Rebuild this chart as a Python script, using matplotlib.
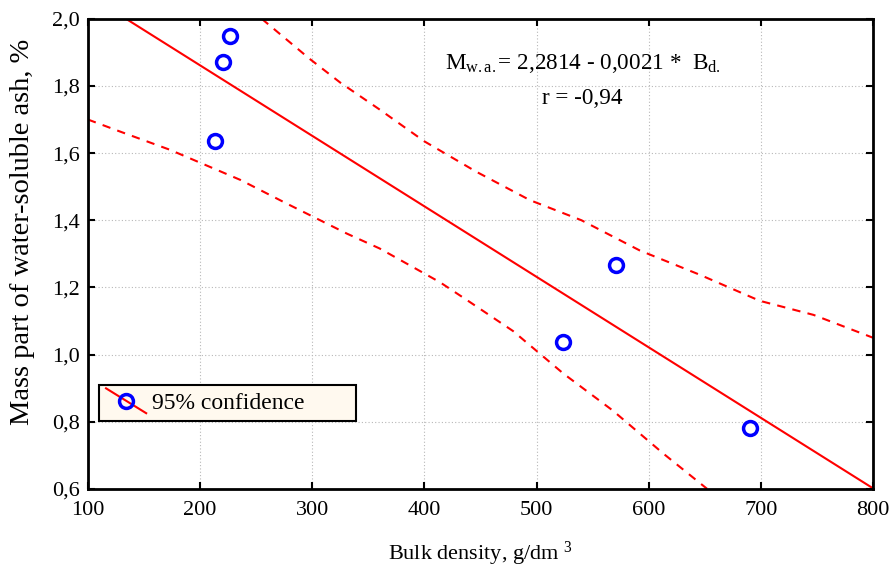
import matplotlib
matplotlib.use("Agg")
import matplotlib.pyplot as plt
import numpy as np
from matplotlib.legend_handler import HandlerBase
from matplotlib.lines import Line2D
from matplotlib.ticker import FuncFormatter

plt.rcParams['font.family'] = ['Liberation Serif', 'DejaVu Serif']
plt.rcParams['mathtext.fontset'] = 'custom'
plt.rcParams['mathtext.rm'] = 'Liberation Serif'
plt.rcParams['mathtext.it'] = 'Liberation Serif:italic'

# measured points
bulk = [213, 220, 227, 524, 571, 690]
ash = [1.635, 1.871, 1.949, 1.038, 1.268, 0.78]

# regression coefficients (from the figure)
b0 = 2.2814
b1 = -0.0021
x_fit = [100, 800]

# 95% confidence band
up_x = [255, 298, 325, 360, 400, 446, 494, 540, 592, 646, 699, 747, 800]
up_y = [2.0, 1.88, 1.81, 1.73, 1.635, 1.545, 1.46, 1.40, 1.31, 1.237, 1.16, 1.118, 1.05]
lo_x = [100, 128, 173, 236, 277, 301, 331, 360, 390, 414, 438, 479, 524, 568, 613, 652]
lo_y = [1.70, 1.665, 1.61, 1.52, 1.45, 1.41, 1.36, 1.316, 1.26, 1.215, 1.162, 1.07,
        0.943, 0.833, 0.705, 0.60]


class DiagHandler(HandlerBase):
    def create_artists(self, legend, orig, xd, yd, w, h, fontsize, trans):
        ln = Line2D([xd, xd + w], [yd + h + 3, yd - 3], color='red', lw=1.5)
        mk = Line2D([xd + w / 2], [yd + h / 2], marker='o', ms=10, mfc='none',
                    mec='blue', mew=2.5, ls='none')
        ln.set_transform(trans)
        mk.set_transform(trans)
        return [ln, mk]


fig, ax = plt.subplots(figsize=(8.93, 5.71), dpi=100)
fig.subplots_adjust(left=0.0985, right=0.9776, top=0.967, bottom=0.144)

xf = np.array(x_fit)
ax.plot(xf, b0 + b1 * xf, color='red', lw=1.5)
ax.plot(up_x, up_y, color='red', lw=1.5, ls=(0, (4, 3.5)))
ax.plot(lo_x, lo_y, color='red', lw=1.5, ls=(0, (4, 3.5)))
pts, = ax.plot(bulk, ash, 'o', ms=10, mfc='none', mec='blue', mew=2.5, ls='none')

ax.set_xlim(100, 800)
ax.set_ylim(0.6, 2.0)
ax.set_xticks(np.arange(100, 801, 100))
ax.set_yticks(np.arange(0.6, 2.01, 0.2))
ax.yaxis.set_major_formatter(FuncFormatter(lambda v, p: f"{v:.1f}".replace('.', ',')))
ax.grid(True, color='#b8b8b8', ls=(0, (1, 2)), lw=0.8)
ax.tick_params(direction='in', length=5, width=1.5, top=True, right=True,
               labelsize=16)
ax.tick_params(axis='x', pad=9)
ax.tick_params(axis='y', pad=6)
for s in ax.spines.values():
    s.set_linewidth(2)

ax.set_xlabel(r"Bulk density, g/dm $^{3}$", fontsize=16, labelpad=14)
ax.set_ylabel("Mass part of water-soluble ash, %", fontsize=20.5)
ax.yaxis.set_label_coords(-0.068, 0.546)

ax.text(0.63, 0.905, r"M$_{\rm w.a.}$= 2,2814 - 0,0021 *  B$_{\rm d.}$",
        transform=ax.transAxes, ha='center', va='center', fontsize=16.7)
ax.text(0.63, 0.83, "r = -0,94", transform=ax.transAxes, ha='center',
        va='center', fontsize=16.7)

leg = ax.legend([pts], ["95% confidence"], loc='lower left', mode='expand',
                bbox_to_anchor=(0.014, 0.144, 0.327, 0.079),
                handler_map={pts: DiagHandler()},
                fontsize=17, frameon=True, fancybox=False, handlelength=1.7,
                borderpad=0.3, borderaxespad=0, handletextpad=0.25)
leg.get_frame().set_facecolor('#fff9ef')
leg.get_frame().set_edgecolor('black')
leg.get_frame().set_linewidth(1.5)
leg.get_frame().set_alpha(1)

fig.savefig("out.png", dpi=100)
